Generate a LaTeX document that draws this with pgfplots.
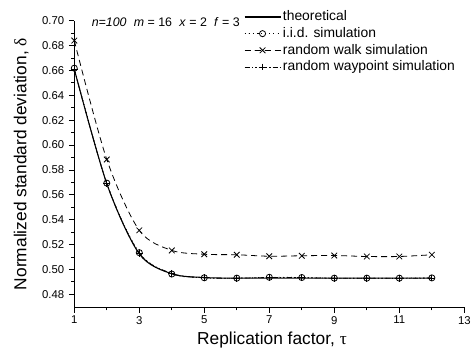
\documentclass[border=0pt]{standalone}
\usepackage{pgfplots}
\pgfplotsset{compat=1.18}
\usepackage{fontspec}
\setmainfont{Liberation Sans}
\newfontfamily\serifgreek{Liberation Serif}
\begin{document}
\begin{tikzpicture}
\useasboundingbox (-55.7pt,-31.3pt) rectangle (297.5pt,230.5pt);
\begin{axis}[
  at={(0pt,0pt)}, anchor=south west,
  scale only axis, width=292.5pt, height=215pt,
  xmin=1, xmax=13, ymin=0.4695, ymax=0.70,
  axis x line*=bottom, axis y line*=left,
  axis line style={-, line width=0.6pt},
  xtick={1,3,5,7,9,11,13},
  minor xtick={2,4,6,8,10,12},
  ytick={0.48,0.50,...,0.701},
  minor ytick={0.49,0.51,...,0.70},
  tick align=outside,
  major tick length=4pt, minor tick length=2.2pt,
  tick style={line width=0.6pt, black},
  /pgf/number format/assume math mode=true,
  yticklabel style={/pgf/number format/.cd, fixed, fixed zerofill, precision=2},
  ticklabel style={font=\fontsize{8.5}{10}\selectfont},
  xticklabel style={yshift=1pt},
  xlabel={Replication factor, {\serifgreek τ}},
  ylabel={Normalized standard deviation, {\serifgreek δ}},
  label style={font=\fontsize{13}{15}\selectfont},
  xlabel style={at={([xshift=2pt,yshift=-27.75pt]axis description cs:0.5,0)}, anchor=base},
  ylabel style={at={([xshift=-36pt]axis description cs:0,0.5)}, anchor=base},
  legend style={draw=none, fill=none, at={(rel axis cs:0.431,1.044)}, anchor=north west,
    font=\fontsize{10.4}{12}\selectfont, row sep=1.5pt, column sep=0.9pt, inner sep=1pt,
    nodes={inner sep=0.5pt, text height=7.8pt, text depth=2.2pt}},
  legend cell align=left,
  legend image code/.code={\draw[mark repeat=2,mark phase=2] plot coordinates {(0cm,0cm) (0.475cm,0cm) (0.95cm,0cm)};},
  clip=false,
]
\addplot[black, line width=0.8pt, smooth, no marks] coordinates {
(1,0.661) (2,0.5690) (3,0.5125) (4,0.4965) (5,0.4935) (6,0.4930) (7,0.4930) (8,0.4930) (9,0.4930) (10,0.4930) (11,0.4930) (12,0.4930)};
\addlegendentry{theoretical}
\addplot[black, line width=0.6pt, dash pattern=on 0.7pt off 2.4pt, smooth, mark=o, mark size=2.3pt, mark options={solid}] coordinates {
(1,0.6618) (2,0.5694) (3,0.5135) (4,0.4963) (5,0.4933) (6,0.4930) (7,0.4937) (8,0.4935) (9,0.4930) (10,0.4930) (11,0.4930) (12,0.4932)};
\addlegendentry{i.i.d. simulation}
\addplot[black, line width=0.6pt, dash pattern=on 4.5pt off 3pt, smooth, mark=x, mark size=3pt, mark options={solid}] coordinates {
(1,0.684) (2,0.5884) (3,0.5314) (4,0.5153) (5,0.5122) (6,0.5118) (7,0.5106) (8,0.5110) (9,0.5112) (10,0.5104) (11,0.5104) (12,0.5118)};
\addlegendentry{random walk simulation}
\addplot[black, line width=0.6pt, dash pattern=on 4pt off 1.5pt on 1pt off 1.5pt on 1pt off 1.5pt, smooth, mark=+, mark size=2.6pt, mark options={solid}] coordinates {
(1,0.6610) (2,0.5690) (3,0.5130) (4,0.4968) (5,0.4932) (6,0.4930) (7,0.4935) (8,0.4934) (9,0.4929) (10,0.4930) (11,0.4928) (12,0.4931)};
\addlegendentry{random waypoint simulation}
\node[anchor=west, font=\fontsize{9.3}{11}\selectfont, inner sep=0pt] at (axis cs:1.53,0.699)
  {\hbox to 111pt{\textit{n=100}\hfil\textit{m} = 16\hfil\textit{x} = 2\hfil\textit{f} = 3}};
\end{axis}
\end{tikzpicture}
\end{document}
